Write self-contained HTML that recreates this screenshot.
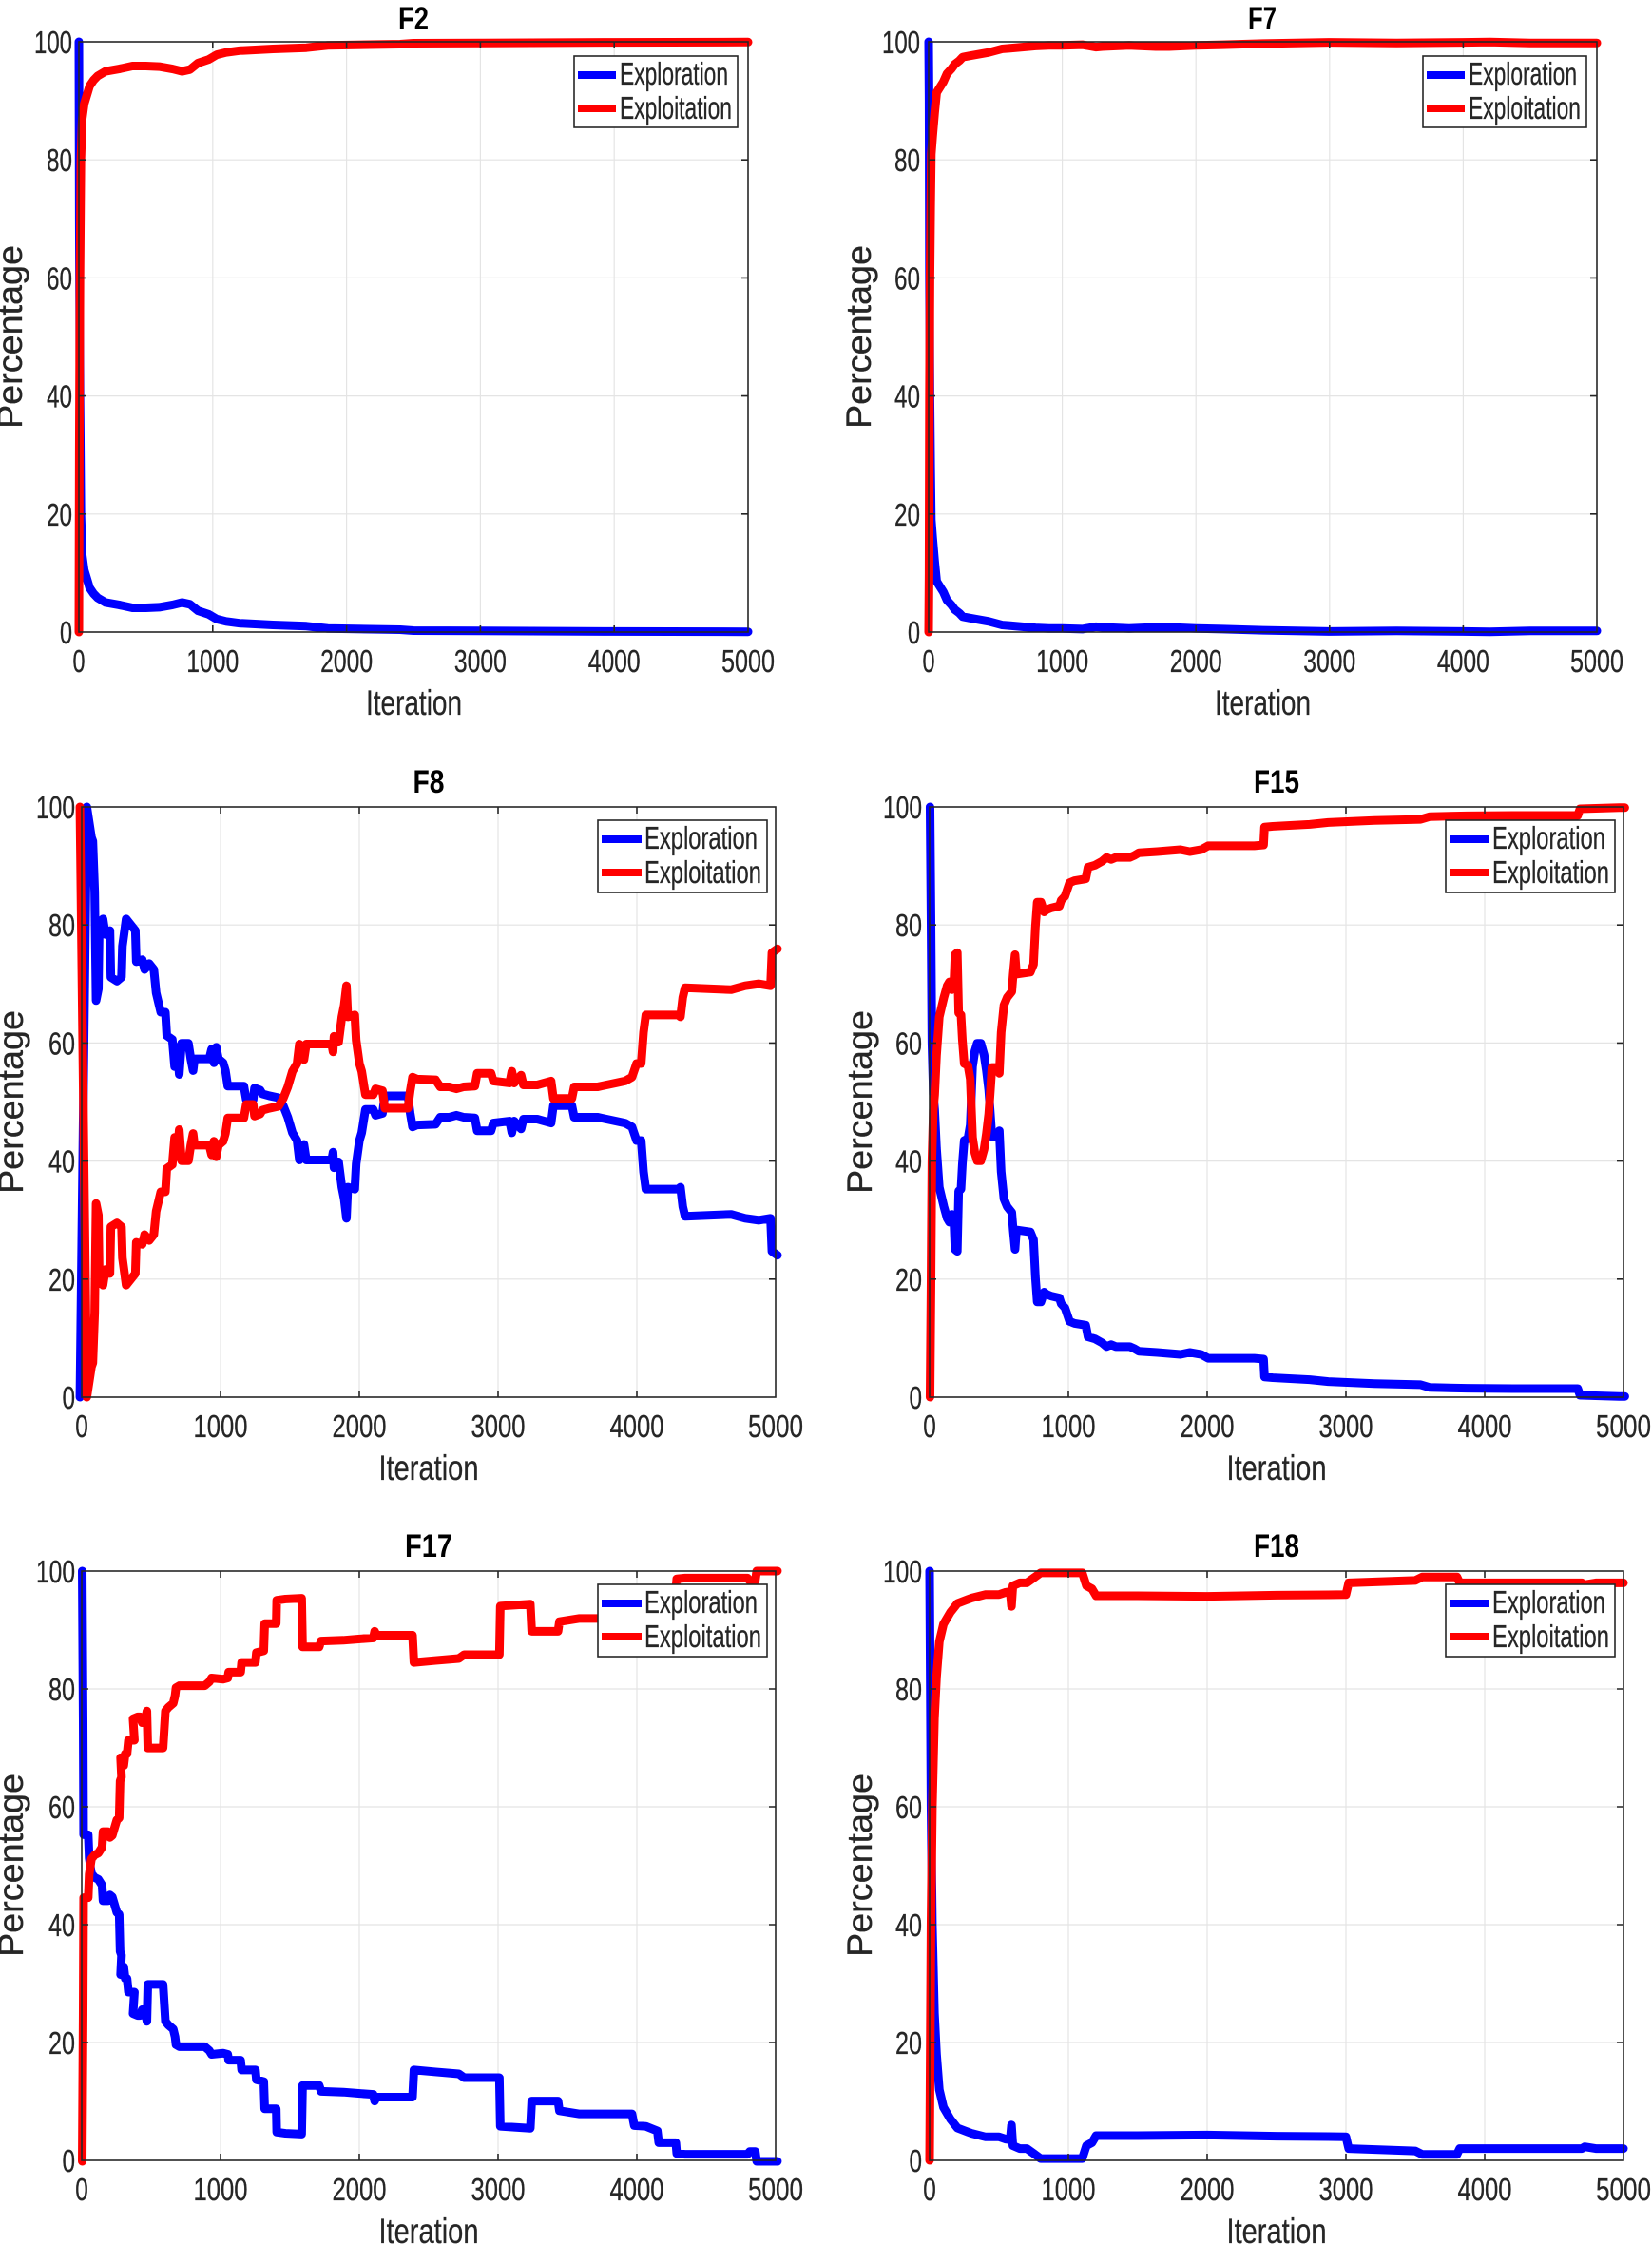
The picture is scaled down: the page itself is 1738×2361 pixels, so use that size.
<!DOCTYPE html>
<html><head><meta charset="utf-8"><style>
html,body{margin:0;padding:0;background:#fff}
svg{display:block}
.t{font-family:"Liberation Sans",Arial,sans-serif;fill:#262626;font-size:33px;stroke:#262626;stroke-width:0.3}
.lab{font-family:"Liberation Sans",Arial,sans-serif;fill:#262626;font-size:37px;stroke:#262626;stroke-width:0.3}
.ttl{font-family:"Liberation Sans",Arial,sans-serif;fill:#000;font-size:34px;font-weight:bold}
.g{stroke:#e4e4e4;stroke-width:1.2;fill:none}
.ax{stroke:#262626;stroke-width:1.6;fill:none}
.b{stroke:#0000ff;stroke-width:9;fill:none;stroke-linejoin:round;stroke-linecap:round}
.r{stroke:#ff0000;stroke-width:9;fill:none;stroke-linejoin:round;stroke-linecap:round}
.lg{fill:#fff;stroke:#262626;stroke-width:1.6}
</style></head><body>
<svg width="1738" height="2361" viewBox="0 0 1738 2361" xmlns="http://www.w3.org/2000/svg">

<!-- ================= F2 ================= -->
<path class="g" d="M223.8 44V665M364.6 44V665M505.4 44V665M646.2 44V665M83 540.8H787M83 416.6H787M83 292.4H787M83 168.2H787"/>
<polyline class="b" vector-effect="non-scaling-stroke" transform="matrix(0.1408 0 0 -6.21 83 665)" points="0,100 3,70 8,40 15,20 25,13 40,10.5 60,9 80,7.5 110,6.5 140,5.8 200,5 300,4.6 400,4.1 500,4.1 600,4.2 700,4.6 770,5 830,4.7 890,3.6 970,3 1030,2.2 1100,1.8 1200,1.5 1450,1.2 1700,1.0 1860,0.6 2400,0.4 2500,0.25 3000,0.2 4000,0.1 5000,0.05"/>
<polyline class="r" vector-effect="non-scaling-stroke" transform="matrix(0.1408 0 0 6.21 83 44)" points="0,100 3,70 8,40 15,20 25,13 40,10.5 60,9 80,7.5 110,6.5 140,5.8 200,5 300,4.6 400,4.1 500,4.1 600,4.2 700,4.6 770,5 830,4.7 890,3.6 970,3 1030,2.2 1100,1.8 1200,1.5 1450,1.2 1700,1.0 1860,0.6 2400,0.4 2500,0.25 3000,0.2 4000,0.1 5000,0.05"/>
<rect class="ax" x="83" y="44" width="704" height="621"/>
<path class="ax" d="M223.8 665v-7M364.6 665v-7M505.4 665v-7M646.2 665v-7M223.8 44v7M364.6 44v7M505.4 44v7M646.2 44v7M83 540.8h7M83 416.6h7M83 292.4h7M83 168.2h7M787 540.8h-7M787 416.6h-7M787 292.4h-7M787 168.2h-7"/>
<rect class="lg" x="604" y="59" width="172" height="75"/>
<line x1="608" y1="79" x2="648" y2="79" stroke="#0000ff" stroke-width="8"/>
<line x1="608" y1="114" x2="648" y2="114" stroke="#ff0000" stroke-width="8"/>
<text class="t" x="652" y="89" textLength="114" lengthAdjust="spacingAndGlyphs">Exploration</text>
<text class="t" x="652" y="125" textLength="118" lengthAdjust="spacingAndGlyphs">Exploitation</text>
<text class="ttl" x="419" y="31" textLength="32" lengthAdjust="spacingAndGlyphs">F2</text>
<g class="t" text-anchor="end">
<text x="76" y="677" textLength="13" lengthAdjust="spacingAndGlyphs">0</text>
<text x="76" y="552.8" textLength="27" lengthAdjust="spacingAndGlyphs">20</text>
<text x="76" y="428.6" textLength="27" lengthAdjust="spacingAndGlyphs">40</text>
<text x="76" y="304.4" textLength="27" lengthAdjust="spacingAndGlyphs">60</text>
<text x="76" y="180.2" textLength="27" lengthAdjust="spacingAndGlyphs">80</text>
<text x="76" y="56" textLength="40" lengthAdjust="spacingAndGlyphs">100</text>
</g>
<g class="t" text-anchor="middle">
<text x="83" y="707" textLength="13" lengthAdjust="spacingAndGlyphs">0</text>
<text x="223.8" y="707" textLength="55" lengthAdjust="spacingAndGlyphs">1000</text>
<text x="364.6" y="707" textLength="55" lengthAdjust="spacingAndGlyphs">2000</text>
<text x="505.4" y="707" textLength="55" lengthAdjust="spacingAndGlyphs">3000</text>
<text x="646.2" y="707" textLength="55" lengthAdjust="spacingAndGlyphs">4000</text>
<text x="787" y="707" textLength="56" lengthAdjust="spacingAndGlyphs">5000</text>
</g>
<text class="lab" x="385" y="752" textLength="101" lengthAdjust="spacingAndGlyphs">Iteration</text>
<text class="lab" transform="translate(23,451) rotate(-90)" x="0" y="0" font-size="36" textLength="193" lengthAdjust="spacingAndGlyphs">Percentage</text>

<!-- ================= F7 ================= -->
<path class="g" d="M1117.6 44V665M1258.2 44V665M1398.8 44V665M1539.4 44V665M977 540.8H1680M977 416.6H1680M977 292.4H1680M977 168.2H1680"/>
<polyline class="b" vector-effect="non-scaling-stroke" transform="matrix(0.1406 0 0 -6.21 977 665)" points="0,100 3,90 6,60 10,40 15,28 20,19 30,16 45,12 60,8.6 90,7.5 110,6.8 137,5.4 170,4.6 196,3.8 230,3.2 255,2.6 300,2.4 350,2.2 400,2 450,1.8 500,1.5 550,1.2 600,1.1 700,0.9 800,0.7 900,0.6 1000,0.6 1150,0.5 1200,0.7 1250,0.9 1300,0.8 1500,0.6 1600,0.7 1700,0.8 1800,0.8 2000,0.6 2200,0.5 2500,0.3 3000,0.1 3500,0.2 4000,0.1 4200,0.05 4500,0.2 5000,0.2"/>
<polyline class="r" vector-effect="non-scaling-stroke" transform="matrix(0.1406 0 0 6.21 977 44)" points="0,100 3,90 6,60 10,40 15,28 20,19 30,16 45,12 60,8.6 90,7.5 110,6.8 137,5.4 170,4.6 196,3.8 230,3.2 255,2.6 300,2.4 350,2.2 400,2 450,1.8 500,1.5 550,1.2 600,1.1 700,0.9 800,0.7 900,0.6 1000,0.6 1150,0.5 1200,0.7 1250,0.9 1300,0.8 1500,0.6 1600,0.7 1700,0.8 1800,0.8 2000,0.6 2200,0.5 2500,0.3 3000,0.1 3500,0.2 4000,0.1 4200,0.05 4500,0.2 5000,0.2"/>
<rect class="ax" x="977" y="44" width="703" height="621"/>
<path class="ax" d="M1117.6 665v-7M1258.2 665v-7M1398.8 665v-7M1539.4 665v-7M1117.6 44v7M1258.2 44v7M1398.8 44v7M1539.4 44v7M977 540.8h7M977 416.6h7M977 292.4h7M977 168.2h7M1680 540.8h-7M1680 416.6h-7M1680 292.4h-7M1680 168.2h-7"/>
<rect class="lg" x="1497" y="59" width="172" height="75"/>
<line x1="1501" y1="79" x2="1541" y2="79" stroke="#0000ff" stroke-width="8"/>
<line x1="1501" y1="114" x2="1541" y2="114" stroke="#ff0000" stroke-width="8"/>
<text class="t" x="1545" y="89" textLength="114" lengthAdjust="spacingAndGlyphs">Exploration</text>
<text class="t" x="1545" y="125" textLength="118" lengthAdjust="spacingAndGlyphs">Exploitation</text>
<text class="ttl" x="1313" y="31" textLength="30" lengthAdjust="spacingAndGlyphs">F7</text>
<g class="t" text-anchor="end">
<text x="968" y="677" textLength="13" lengthAdjust="spacingAndGlyphs">0</text>
<text x="968" y="552.8" textLength="27" lengthAdjust="spacingAndGlyphs">20</text>
<text x="968" y="428.6" textLength="27" lengthAdjust="spacingAndGlyphs">40</text>
<text x="968" y="304.4" textLength="27" lengthAdjust="spacingAndGlyphs">60</text>
<text x="968" y="180.2" textLength="27" lengthAdjust="spacingAndGlyphs">80</text>
<text x="968" y="56" textLength="40" lengthAdjust="spacingAndGlyphs">100</text>
</g>
<g class="t" text-anchor="middle">
<text x="977" y="707" textLength="13" lengthAdjust="spacingAndGlyphs">0</text>
<text x="1117.6" y="707" textLength="55" lengthAdjust="spacingAndGlyphs">1000</text>
<text x="1258.2" y="707" textLength="55" lengthAdjust="spacingAndGlyphs">2000</text>
<text x="1398.8" y="707" textLength="55" lengthAdjust="spacingAndGlyphs">3000</text>
<text x="1539.4" y="707" textLength="55" lengthAdjust="spacingAndGlyphs">4000</text>
<text x="1680" y="707" textLength="56" lengthAdjust="spacingAndGlyphs">5000</text>
</g>
<text class="lab" x="1278" y="752" textLength="101" lengthAdjust="spacingAndGlyphs">Iteration</text>
<text class="lab" transform="translate(916,451) rotate(-90)" x="0" y="0" font-size="36" textLength="193" lengthAdjust="spacingAndGlyphs">Percentage</text>

<!-- ================= F8 ================= -->
<path class="g" d="M232 849V1470M378 849V1470M524 849V1470M670 849V1470M86 1345.8H816M86 1221.6H816M86 1097.4H816M86 973.2H816"/>
<polyline class="b" vector-effect="non-scaling-stroke" transform="matrix(0.486 0 0 0.4091 69.5 840)" points="30,1540 45,22 55,100 58,110 62,240 65,520 70,490 72,320 80,310 85,350 95,340 97,460 110,470 120,460 122,380 130,310 140,325 150,340 152,420 165,415 170,440 180,425 190,440 195,500 205,550 215,550 218,610 230,620 235,690 240,640 245,710 250,630 265,630 270,670 275,700 278,670 310,670 315,645 320,680 325,640 330,670 340,680 345,700 350,740 385,740 390,775 405,775 408,745 420,750 425,760 440,765 460,770 470,790 480,820 490,860 500,880 505,930 515,890 520,930 575,930 578,910 580,950 590,935 597,1000 602,1030 607,1080 610,1000 625,1005 628,940 635,880 640,860 648,800 665,800 670,815 685,810 690,765 740,765 745,810 750,845 760,840 800,838 810,820 830,820 845,815 860,820 885,822 890,855 920,855 925,835 960,830 965,860 970,830 985,850 990,825 1020,825 1050,835 1055,790 1095,790 1100,820 1150,820 1170,825 1210,835 1225,845 1235,880 1245,880 1250,960 1255,1005 1325,1005 1330,1000 1335,1050 1340,1075 1440,1070 1470,1080 1500,1085 1525,1080 1528,1165 1540,1175"/>
<polyline class="r" vector-effect="non-scaling-stroke" transform="matrix(0.486 0 0 -0.4091 69.5 1479)" points="30,1540 45,22 55,100 58,110 62,240 65,520 70,490 72,320 80,310 85,350 95,340 97,460 110,470 120,460 122,380 130,310 140,325 150,340 152,420 165,415 170,440 180,425 190,440 195,500 205,550 215,550 218,610 230,620 235,690 240,640 245,710 250,630 265,630 270,670 275,700 278,670 310,670 315,645 320,680 325,640 330,670 340,680 345,700 350,740 385,740 390,775 405,775 408,745 420,750 425,760 440,765 460,770 470,790 480,820 490,860 500,880 505,930 515,890 520,930 575,930 578,910 580,950 590,935 597,1000 602,1030 607,1080 610,1000 625,1005 628,940 635,880 640,860 648,800 665,800 670,815 685,810 690,765 740,765 745,810 750,845 760,840 800,838 810,820 830,820 845,815 860,820 885,822 890,855 920,855 925,835 960,830 965,860 970,830 985,850 990,825 1020,825 1050,835 1055,790 1095,790 1100,820 1150,820 1170,825 1210,835 1225,845 1235,880 1245,880 1250,960 1255,1005 1325,1005 1330,1000 1335,1050 1340,1075 1440,1070 1470,1080 1500,1085 1525,1080 1528,1165 1540,1175"/>
<rect class="ax" x="86" y="849" width="730" height="621"/>
<path class="ax" d="M232 1470v-7M378 1470v-7M524 1470v-7M670 1470v-7M232 849v7M378 849v7M524 849v7M670 849v7M86 1345.8h7M86 1221.6h7M86 1097.4h7M86 973.2h7M816 1345.8h-7M816 1221.6h-7M816 1097.4h-7M816 973.2h-7"/>
<rect class="lg" x="629" y="863" width="178" height="76"/>
<line x1="633" y1="883" x2="675" y2="883" stroke="#0000ff" stroke-width="8"/>
<line x1="633" y1="918" x2="675" y2="918" stroke="#ff0000" stroke-width="8"/>
<text class="t" x="678" y="893" textLength="119" lengthAdjust="spacingAndGlyphs">Exploration</text>
<text class="t" x="678" y="929" textLength="123" lengthAdjust="spacingAndGlyphs">Exploitation</text>
<text class="ttl" x="434.5" y="834" textLength="33" lengthAdjust="spacingAndGlyphs">F8</text>
<g class="t" text-anchor="end">
<text x="79" y="1482" textLength="13.5" lengthAdjust="spacingAndGlyphs">0</text>
<text x="79" y="1357.8" textLength="28" lengthAdjust="spacingAndGlyphs">20</text>
<text x="79" y="1233.6" textLength="28" lengthAdjust="spacingAndGlyphs">40</text>
<text x="79" y="1109.4" textLength="28" lengthAdjust="spacingAndGlyphs">60</text>
<text x="79" y="985.2" textLength="28" lengthAdjust="spacingAndGlyphs">80</text>
<text x="79" y="861" textLength="41" lengthAdjust="spacingAndGlyphs">100</text>
</g>
<g class="t" text-anchor="middle">
<text x="86" y="1512" textLength="13.5" lengthAdjust="spacingAndGlyphs">0</text>
<text x="232" y="1512" textLength="57" lengthAdjust="spacingAndGlyphs">1000</text>
<text x="378" y="1512" textLength="57" lengthAdjust="spacingAndGlyphs">2000</text>
<text x="524" y="1512" textLength="57" lengthAdjust="spacingAndGlyphs">3000</text>
<text x="670" y="1512" textLength="57" lengthAdjust="spacingAndGlyphs">4000</text>
<text x="816" y="1512" textLength="58" lengthAdjust="spacingAndGlyphs">5000</text>
</g>
<text class="lab" x="398.5" y="1557" textLength="105" lengthAdjust="spacingAndGlyphs">Iteration</text>
<text class="lab" transform="translate(24,1256) rotate(-90)" x="0" y="0" font-size="36" textLength="193" lengthAdjust="spacingAndGlyphs">Percentage</text>

<!-- ================= F15 ================= -->
<path class="g" d="M1124 849V1470M1270 849V1470M1416 849V1470M1562 849V1470M978 1345.8H1708M978 1221.6H1708M978 1097.4H1708M978 973.2H1708"/>
<polyline class="b" vector-effect="non-scaling-stroke" transform="matrix(0.486 0 0 0.4091 960 840)" points="38,22 40,300 42,630 45,760 48,800 52,900 58,1000 62,1020 68,1050 75,1080 80,1090 85,1070 90,1100 92,1160 97,1165 100,1010 105,1005 108,940 112,880 120,875 125,840 130,690 135,650 140,630 148,630 155,660 160,700 165,750 168,800 172,870 182,870 188,855 192,960 198,1030 205,1050 215,1065 218,1110 222,1160 225,1110 255,1115 262,1135 266,1230 270,1295 278,1295 285,1270 290,1275 300,1280 318,1285 322,1300 330,1310 340,1345 350,1350 375,1355 380,1385 395,1390 410,1400 420,1410 430,1405 440,1410 470,1410 480,1415 490,1422 530,1425 580,1430 600,1425 625,1430 640,1440 680,1440 740,1440 760,1442 762,1488 780,1490 860,1495 900,1500 1000,1505 1100,1508 1120,1515 1200,1517 1300,1518 1440,1518 1445,1535 1530,1538 1542,1538"/>
<polyline class="r" vector-effect="non-scaling-stroke" transform="matrix(0.486 0 0 -0.4091 960 1479)" points="38,22 40,300 42,630 45,760 48,800 52,900 58,1000 62,1020 68,1050 75,1080 80,1090 85,1070 90,1100 92,1160 97,1165 100,1010 105,1005 108,940 112,880 120,875 125,840 130,690 135,650 140,630 148,630 155,660 160,700 165,750 168,800 172,870 182,870 188,855 192,960 198,1030 205,1050 215,1065 218,1110 222,1160 225,1110 255,1115 262,1135 266,1230 270,1295 278,1295 285,1270 290,1275 300,1280 318,1285 322,1300 330,1310 340,1345 350,1350 375,1355 380,1385 395,1390 410,1400 420,1410 430,1405 440,1410 470,1410 480,1415 490,1422 530,1425 580,1430 600,1425 625,1430 640,1440 680,1440 740,1440 760,1442 762,1488 780,1490 860,1495 900,1500 1000,1505 1100,1508 1120,1515 1200,1517 1300,1518 1440,1518 1445,1535 1530,1538 1542,1538"/>
<rect class="ax" x="978" y="849" width="730" height="621"/>
<path class="ax" d="M1124 1470v-7M1270 1470v-7M1416 1470v-7M1562 1470v-7M1124 849v7M1270 849v7M1416 849v7M1562 849v7M978 1345.8h7M978 1221.6h7M978 1097.4h7M978 973.2h7M1708 1345.8h-7M1708 1221.6h-7M1708 1097.4h-7M1708 973.2h-7"/>
<rect class="lg" x="1521" y="863" width="178" height="76"/>
<line x1="1525" y1="883" x2="1567" y2="883" stroke="#0000ff" stroke-width="8"/>
<line x1="1525" y1="918" x2="1567" y2="918" stroke="#ff0000" stroke-width="8"/>
<text class="t" x="1570" y="893" textLength="119" lengthAdjust="spacingAndGlyphs">Exploration</text>
<text class="t" x="1570" y="929" textLength="123" lengthAdjust="spacingAndGlyphs">Exploitation</text>
<text class="ttl" x="1319" y="834" textLength="48" lengthAdjust="spacingAndGlyphs">F15</text>
<g class="t" text-anchor="end">
<text x="970" y="1482" textLength="13.5" lengthAdjust="spacingAndGlyphs">0</text>
<text x="970" y="1357.8" textLength="28" lengthAdjust="spacingAndGlyphs">20</text>
<text x="970" y="1233.6" textLength="28" lengthAdjust="spacingAndGlyphs">40</text>
<text x="970" y="1109.4" textLength="28" lengthAdjust="spacingAndGlyphs">60</text>
<text x="970" y="985.2" textLength="28" lengthAdjust="spacingAndGlyphs">80</text>
<text x="970" y="861" textLength="41" lengthAdjust="spacingAndGlyphs">100</text>
</g>
<g class="t" text-anchor="middle">
<text x="978" y="1512" textLength="13.5" lengthAdjust="spacingAndGlyphs">0</text>
<text x="1124" y="1512" textLength="57" lengthAdjust="spacingAndGlyphs">1000</text>
<text x="1270" y="1512" textLength="57" lengthAdjust="spacingAndGlyphs">2000</text>
<text x="1416" y="1512" textLength="57" lengthAdjust="spacingAndGlyphs">3000</text>
<text x="1562" y="1512" textLength="57" lengthAdjust="spacingAndGlyphs">4000</text>
<text x="1708" y="1512" textLength="58" lengthAdjust="spacingAndGlyphs">5000</text>
</g>
<text class="lab" x="1290.5" y="1557" textLength="105" lengthAdjust="spacingAndGlyphs">Iteration</text>
<text class="lab" transform="translate(917,1256) rotate(-90)" x="0" y="0" font-size="36" textLength="193" lengthAdjust="spacingAndGlyphs">Percentage</text>

<!-- ================= F17 ================= -->
<path class="g" d="M232 1653V2273M378 1653V2273M524 1653V2273M670 1653V2273M86 2149H816M86 2025H816M86 1901H816M86 1777H816"/>
<polyline class="b" vector-effect="non-scaling-stroke" transform="matrix(0.486 0 0 0.4091 69.5 1644)" points="35,22 37,400 38,700 48,700 50,760 55,800 62,810 70,815 78,830 80,870 90,870 95,855 100,860 105,880 110,900 115,905 117,1000 120,1010 118,1060 125,1040 128,1070 132,1070 135,1105 148,1105 145,1160 155,1165 160,1165 165,1150 170,1150 175,1180 177,1085 210,1085 215,1180 222,1190 232,1200 236,1220 238,1240 245,1245 300,1245 310,1255 315,1265 340,1262 350,1265 352,1280 378,1280 380,1305 410,1305 412,1330 428,1335 430,1405 455,1405 456,1465 475,1468 510,1470 512,1345 548,1345 552,1360 600,1362 630,1365 665,1368 668,1385 672,1375 750,1375 753,1305 800,1310 850,1315 862,1325 938,1325 940,1450 1005,1455 1008,1385 1065,1385 1068,1410 1110,1418 1225,1418 1230,1448 1255,1450 1280,1462 1283,1492 1320,1492 1322,1520 1340,1522 1400,1522 1475,1522 1480,1515 1492,1515 1495,1540 1540,1540"/>
<polyline class="r" vector-effect="non-scaling-stroke" transform="matrix(0.486 0 0 -0.4091 69.5 2283)" points="35,22 37,400 38,700 48,700 50,760 55,800 62,810 70,815 78,830 80,870 90,870 95,855 100,860 105,880 110,900 115,905 117,1000 120,1010 118,1060 125,1040 128,1070 132,1070 135,1105 148,1105 145,1160 155,1165 160,1165 165,1150 170,1150 175,1180 177,1085 210,1085 215,1180 222,1190 232,1200 236,1220 238,1240 245,1245 300,1245 310,1255 315,1265 340,1262 350,1265 352,1280 378,1280 380,1305 410,1305 412,1330 428,1335 430,1405 455,1405 456,1465 475,1468 510,1470 512,1345 548,1345 552,1360 600,1362 630,1365 665,1368 668,1385 672,1375 750,1375 753,1305 800,1310 850,1315 862,1325 938,1325 940,1450 1005,1455 1008,1385 1065,1385 1068,1410 1110,1418 1225,1418 1230,1448 1255,1450 1280,1462 1283,1492 1320,1492 1322,1520 1340,1522 1400,1522 1475,1522 1480,1515 1492,1515 1495,1540 1540,1540"/>
<rect class="ax" x="86" y="1653" width="730" height="620"/>
<path class="ax" d="M232 2273v-7M378 2273v-7M524 2273v-7M670 2273v-7M232 1653v7M378 1653v7M524 1653v7M670 1653v7M86 2149h7M86 2025h7M86 1901h7M86 1777h7M816 2149h-7M816 2025h-7M816 1901h-7M816 1777h-7"/>
<rect class="lg" x="629" y="1667" width="178" height="76"/>
<line x1="633" y1="1687" x2="675" y2="1687" stroke="#0000ff" stroke-width="8"/>
<line x1="633" y1="1722" x2="675" y2="1722" stroke="#ff0000" stroke-width="8"/>
<text class="t" x="678" y="1697" textLength="119" lengthAdjust="spacingAndGlyphs">Exploration</text>
<text class="t" x="678" y="1733" textLength="123" lengthAdjust="spacingAndGlyphs">Exploitation</text>
<text class="ttl" x="426" y="1638" textLength="50" lengthAdjust="spacingAndGlyphs">F17</text>
<g class="t" text-anchor="end">
<text x="79" y="2285" textLength="13.5" lengthAdjust="spacingAndGlyphs">0</text>
<text x="79" y="2161" textLength="28" lengthAdjust="spacingAndGlyphs">20</text>
<text x="79" y="2037" textLength="28" lengthAdjust="spacingAndGlyphs">40</text>
<text x="79" y="1913" textLength="28" lengthAdjust="spacingAndGlyphs">60</text>
<text x="79" y="1789" textLength="28" lengthAdjust="spacingAndGlyphs">80</text>
<text x="79" y="1665" textLength="41" lengthAdjust="spacingAndGlyphs">100</text>
</g>
<g class="t" text-anchor="middle">
<text x="86" y="2315" textLength="13.5" lengthAdjust="spacingAndGlyphs">0</text>
<text x="232" y="2315" textLength="57" lengthAdjust="spacingAndGlyphs">1000</text>
<text x="378" y="2315" textLength="57" lengthAdjust="spacingAndGlyphs">2000</text>
<text x="524" y="2315" textLength="57" lengthAdjust="spacingAndGlyphs">3000</text>
<text x="670" y="2315" textLength="57" lengthAdjust="spacingAndGlyphs">4000</text>
<text x="816" y="2315" textLength="58" lengthAdjust="spacingAndGlyphs">5000</text>
</g>
<text class="lab" x="398.5" y="2360" textLength="105" lengthAdjust="spacingAndGlyphs">Iteration</text>
<text class="lab" transform="translate(24,2059) rotate(-90)" x="0" y="0" font-size="36" textLength="193" lengthAdjust="spacingAndGlyphs">Percentage</text>

<!-- ================= F18 ================= -->
<path class="g" d="M1124 1653V2273M1270 1653V2273M1416 1653V2273M1562 1653V2273M978 2149H1708M978 2025H1708M978 1901H1708M978 1777H1708"/>
<polyline class="b" vector-effect="non-scaling-stroke" transform="matrix(0.146 0 0 -6.2 978 2273)" points="0,100 5,80 10,60 20,40 35,25 50,18 70,12 100,9 150,7 200,5.5 300,4.6 400,4 500,4 550,3.6 580,3.5 590,6 600,2.5 650,2 700,2 760,1 800,0.3 1100,0.3 1130,2.5 1170,3 1200,4.2 1500,4.2 2000,4.3 2500,4.1 3000,4 3020,2 3500,1.6 3550,1 3800,1 3820,2 4700,2 4720,2.3 4800,2 5000,2"/>
<polyline class="r" vector-effect="non-scaling-stroke" transform="matrix(0.146 0 0 6.2 978 1653)" points="0,100 5,80 10,60 20,40 35,25 50,18 70,12 100,9 150,7 200,5.5 300,4.6 400,4 500,4 550,3.6 580,3.5 590,6 600,2.5 650,2 700,2 760,1 800,0.3 1100,0.3 1130,2.5 1170,3 1200,4.2 1500,4.2 2000,4.3 2500,4.1 3000,4 3020,2 3500,1.6 3550,1 3800,1 3820,2 4700,2 4720,2.3 4800,2 5000,2"/>
<rect class="ax" x="978" y="1653" width="730" height="620"/>
<path class="ax" d="M1124 2273v-7M1270 2273v-7M1416 2273v-7M1562 2273v-7M1124 1653v7M1270 1653v7M1416 1653v7M1562 1653v7M978 2149h7M978 2025h7M978 1901h7M978 1777h7M1708 2149h-7M1708 2025h-7M1708 1901h-7M1708 1777h-7"/>
<rect class="lg" x="1521" y="1667" width="178" height="76"/>
<line x1="1525" y1="1687" x2="1567" y2="1687" stroke="#0000ff" stroke-width="8"/>
<line x1="1525" y1="1722" x2="1567" y2="1722" stroke="#ff0000" stroke-width="8"/>
<text class="t" x="1570" y="1697" textLength="119" lengthAdjust="spacingAndGlyphs">Exploration</text>
<text class="t" x="1570" y="1733" textLength="123" lengthAdjust="spacingAndGlyphs">Exploitation</text>
<text class="ttl" x="1319" y="1638" textLength="48" lengthAdjust="spacingAndGlyphs">F18</text>
<g class="t" text-anchor="end">
<text x="970" y="2285" textLength="13.5" lengthAdjust="spacingAndGlyphs">0</text>
<text x="970" y="2161" textLength="28" lengthAdjust="spacingAndGlyphs">20</text>
<text x="970" y="2037" textLength="28" lengthAdjust="spacingAndGlyphs">40</text>
<text x="970" y="1913" textLength="28" lengthAdjust="spacingAndGlyphs">60</text>
<text x="970" y="1789" textLength="28" lengthAdjust="spacingAndGlyphs">80</text>
<text x="970" y="1665" textLength="41" lengthAdjust="spacingAndGlyphs">100</text>
</g>
<g class="t" text-anchor="middle">
<text x="978" y="2315" textLength="13.5" lengthAdjust="spacingAndGlyphs">0</text>
<text x="1124" y="2315" textLength="57" lengthAdjust="spacingAndGlyphs">1000</text>
<text x="1270" y="2315" textLength="57" lengthAdjust="spacingAndGlyphs">2000</text>
<text x="1416" y="2315" textLength="57" lengthAdjust="spacingAndGlyphs">3000</text>
<text x="1562" y="2315" textLength="57" lengthAdjust="spacingAndGlyphs">4000</text>
<text x="1708" y="2315" textLength="58" lengthAdjust="spacingAndGlyphs">5000</text>
</g>
<text class="lab" x="1290.5" y="2360" textLength="105" lengthAdjust="spacingAndGlyphs">Iteration</text>
<text class="lab" transform="translate(917,2059) rotate(-90)" x="0" y="0" font-size="36" textLength="193" lengthAdjust="spacingAndGlyphs">Percentage</text>
</svg>
</body></html>
